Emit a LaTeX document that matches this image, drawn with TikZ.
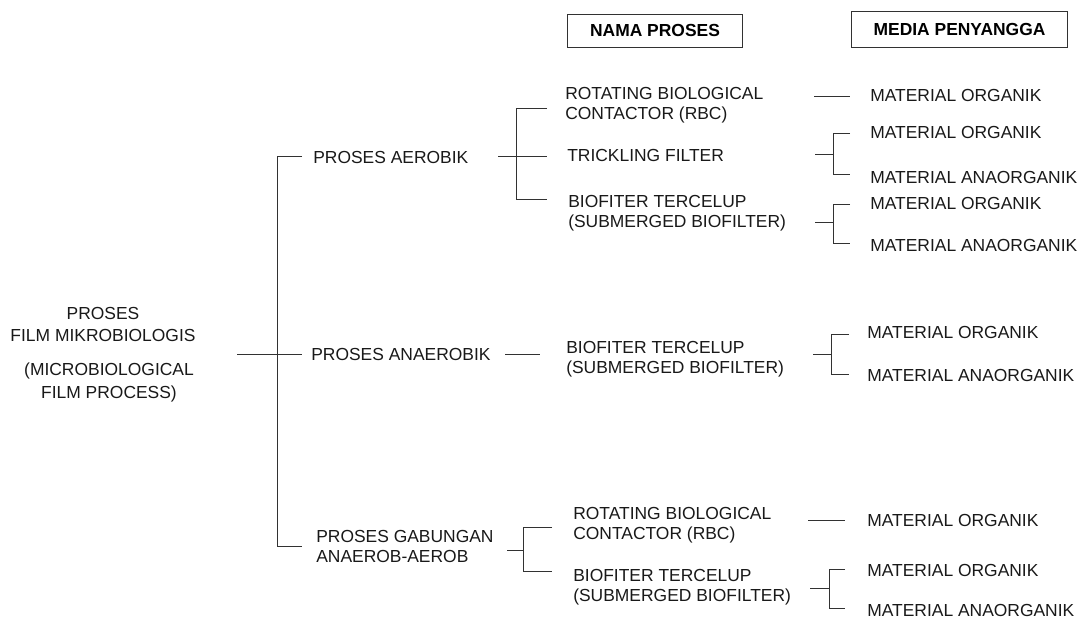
\documentclass[tikz,border=0pt]{standalone}
\usepackage{fontspec}
\setmainfont{Liberation Sans}
\usetikzlibrary{positioning}
\definecolor{lineGray}{RGB}{50,50,50}
\definecolor{txtGray}{RGB}{25,25,25}

\begin{document}
\begin{tikzpicture}[x=0.025cm, y=-0.025cm,
    txt/.style={anchor=west, inner sep=0pt, align=left, text=txtGray,
      font=\fontsize{12.4}{14.2}\selectfont},
    rootTxt/.style={txt, anchor=center, align=center,
      font=\fontsize{12.4}{16.3}\selectfont},
    hdr/.style={draw=lineGray, line width=0.7pt, inner sep=0pt, text=black,
      font=\fontsize{12.4}{14.2}\selectfont\bfseries},
    link/.style={line width=0.7pt, lineGray}]
  \useasboundingbox (0,0) rectangle (1089,620);

  % Column headers
  \node[hdr, minimum width=4.35cm, minimum height=0.825cm] (hdrProses) at (655,30.5) {NAMA PROSES};
  \node[hdr, minimum width=5.375cm, minimum height=0.9cm] (hdrMedia) at (959.5,29) {MEDIA PENYANGGA};

  % Root
  \node[rootTxt] (root) at (103,324.5) {PROSES\\FILM MIKROBIOLOGIS};
  \node[rootTxt] (rootEn) at (109,382.5) {(MICROBIOLOGICAL\\FILM PROCESS)};

  % Main processes
  \node[txt] (aerob) at (313,157) {PROSES AEROBIK};
  \node[txt] (anaerob) at (311,354) {PROSES ANAEROBIK};
  \node[txt] (gabung) at (316,546) {PROSES GABUNGAN\\ANAEROB-AEROB};

  % Process names
  \node[txt] (rbcA) at (565,105) {ROTATING BIOLOGICAL\\CONTACTOR (RBC)};
  \node[txt] (trick) at (567,155) {TRICKLING FILTER};
  \node[txt] (bioA) at (568,213) {BIOFITER TERCELUP\\(SUBMERGED BIOFILTER)};
  \node[txt] (bioB) at (566,359) {BIOFITER TERCELUP\\(SUBMERGED BIOFILTER)};
  \node[txt] (rbcB) at (573,525) {ROTATING BIOLOGICAL\\CONTACTOR (RBC)};
  \node[txt] (bioC) at (573,587) {BIOFITER TERCELUP\\(SUBMERGED BIOFILTER)};

  % Media
  \node[txt] (matA) at (870,95) {MATERIAL ORGANIK};
  \node[txt] (matB1) at (870,132) {MATERIAL ORGANIK};
  \node[txt] (matB2) at (870,177) {MATERIAL ANAORGANIK};
  \node[txt] (matC1) at (870,203) {MATERIAL ORGANIK};
  \node[txt] (matC2) at (870,245) {MATERIAL ANAORGANIK};
  \node[txt] (matD1) at (867,332) {MATERIAL ORGANIK};
  \node[txt] (matD2) at (867,375) {MATERIAL ANAORGANIK};
  \node[txt] (matE) at (867,520) {MATERIAL ORGANIK};
  \node[txt] (matF1) at (867,570) {MATERIAL ORGANIK};
  \node[txt] (matF2) at (867,610) {MATERIAL ANAORGANIK};

  % Main tree
  \coordinate (spineMain) at (277,354);
  \draw[link] (237,354) -- (302,354);
  \draw[link] (302,156) -- (277,156) -- (277,546) -- (302,546);

  % Aerobik bracket
  \draw[link] (498,156) -- (547,156);
  \draw[link] (547,108) -- (516,108) -- (516,199) -- (547,199);
  % Anaerobik link
  \draw[link] (505,354) -- (540,354);
  % Gabungan bracket
  \draw[link] (507,550) -- (523,550);
  \draw[link] (552,527) -- (523,527) -- (523,571) -- (552,571);

  % Single media links
  \draw[link] (814,96) -- (850,96);
  \draw[link] (808,520) -- (845,520);

  % Media brackets
  \foreach \xs/\xm/\xe/\ya/\ym/\yb in {815/833/850/133/154/174, 815/833/850/204/222/243,
      813/831/849/334/354/374, 810/829/845/569/588/608} {
    \draw[link] (\xs,\ym) -- (\xm,\ym);
    \draw[link] (\xe,\ya) -- (\xm,\ya) -- (\xm,\yb) -- (\xe,\yb);
  }
\end{tikzpicture}
\end{document}
